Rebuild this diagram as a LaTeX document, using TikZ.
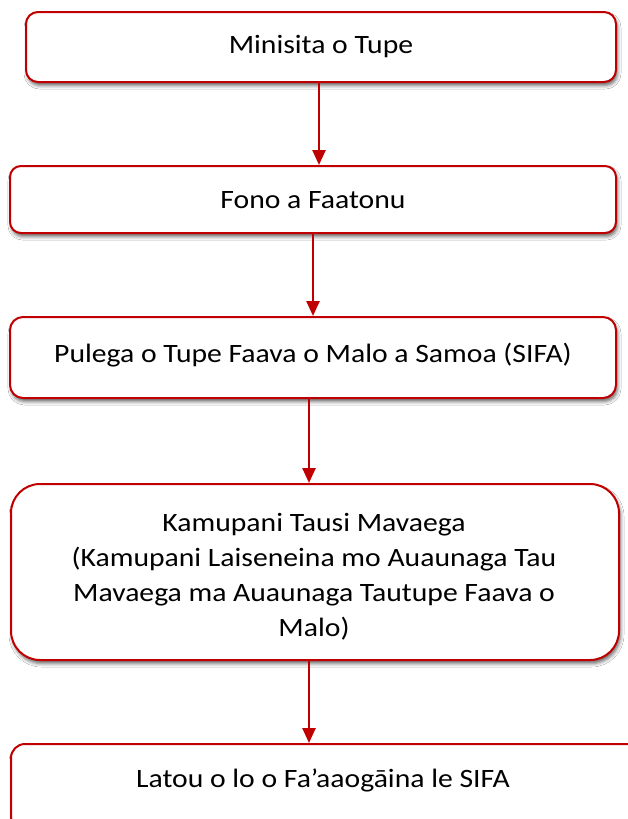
\documentclass[tikz,border=0pt]{standalone}
\usepackage{fontspec}
\setmainfont{Carlito}[FakeStretch=1.12]
\usetikzlibrary{arrows.meta,shadows.blur}
\definecolor{boxred}{HTML}{C00000}
\begin{document}
\begin{tikzpicture}[x=1pt,y=-1pt,
  box/.style={draw=boxred, line width=2pt, fill=white, rectangle, inner sep=0pt,
    blur shadow={shadow xshift=1.5pt, shadow yshift=-3.5pt, shadow blur radius=3.5pt, shadow opacity=60}},
  lbl/.style={font=\fontsize{26.5}{35}\selectfont, inner sep=0pt, anchor=base},
  arr/.style={draw=boxred, line width=2.5pt, -{Triangle[width=13pt,length=15pt]}}]
\useasboundingbox[fill=white] (0,0) rectangle (627,819);
\node[box, minimum width=590pt, minimum height=70pt, rounded corners=12pt] (b1) at (321,47) {};
\node[box, minimum width=606pt, minimum height=67pt, rounded corners=11pt] (b2) at (313,199.5) {};
\node[box, minimum width=606pt, minimum height=81pt, rounded corners=13pt] (b3) at (313,357.5) {};
\node[box, minimum width=608pt, minimum height=176pt, rounded corners=29pt] (b4) at (315,572) {};
\node[box, minimum width=629pt, minimum height=86pt, rounded corners=14pt] (b5) at (325.5,787) {};
\node[lbl] (t1) at (321,53) {Minisita o Tupe};
\node[lbl] (t2) at (313,208) {Fono a Faatonu};
\node[lbl] (t3) at (313,362) {Pulega o Tupe Faava o Malo a Samoa (SIFA)};
\node[lbl] (t4) at (314,531.7) {\begin{tabular}[t]{@{}c@{}}Kamupani Tausi Mavaega\\(Kamupani Laiseneina mo Auaunaga Tau\\Mavaega ma Auaunaga Tautupe Faava o\\Malo)\end{tabular}};
\node[lbl] (t5) at (323,787) {Latou o lo o Fa’aaogāina le SIFA};
\draw[arr] ([xshift=-2pt]b1.south) -- ([xshift=-2pt]b1.south |- b2.north);
\draw[arr] (b2.south) -- (b2.south |- b3.north);
\draw[arr] ([xshift=-4pt]b3.south) -- ([xshift=-4pt]b3.south |- b4.north);
\draw[arr] ([xshift=-6pt]b4.south) -- ([xshift=-6pt]b4.south |- b5.north);
\end{tikzpicture}
\end{document}
